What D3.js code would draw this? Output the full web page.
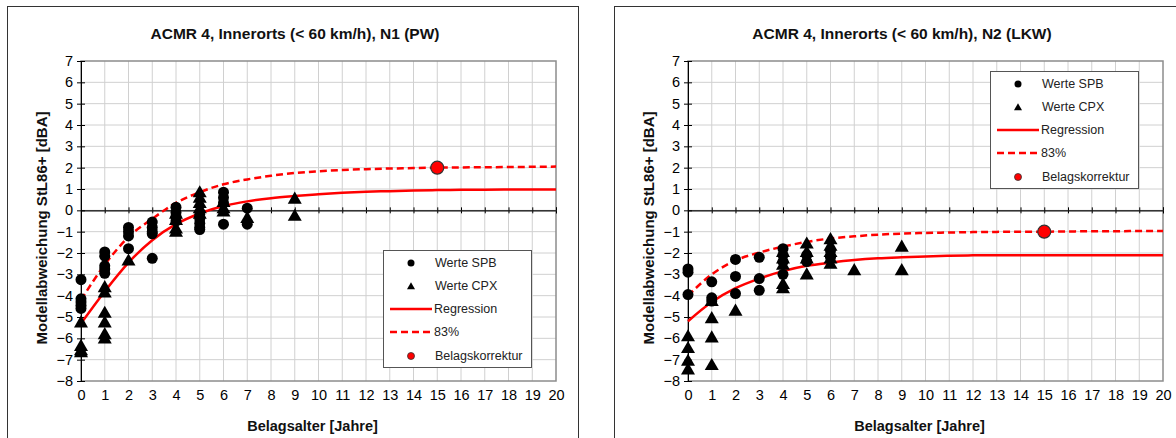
<!DOCTYPE html>
<html>
<head>
<meta charset="utf-8">
<script src="https://cdn.jsdelivr.net/npm/d3@7"></script>
<style>
  body { margin: 0; background: #fff; }
  svg { display: block; font-family: Arial, "Liberation Sans", sans-serif; }
</style>
</head>
<body>
<svg id="chart" width="1176" height="438"></svg>
<script>
// x axis (Belagsalter) and y axis ticks
const years = [0, 1, 2, 3, 4, 5, 6, 7, 8, 9, 10, 11, 12, 13, 14, 15, 16, 17, 18, 19, 20];
const yTicks = [7, 6, 5, 4, 3, 2, 1, 0, -1, -2, -3, -4, -5, -6, -7, -8];

// N1 (PW)
const n1Spb = [[0,-3.25],[0,-4.15],[0,-4.3],[0,-4.45],[0,-4.6],
  [1,-1.95],[1,-2.15],[1,-2.6],[1,-2.75],[1,-2.95],
  [2,-0.8],[2,-1.0],[2,-1.2],[2,-1.8],
  [3,-0.55],[3,-0.8],[3,-1.0],[3,-1.1],[3,-2.25],
  [4,0.15],[4,-0.1],[4,-0.3],[4,-0.5],
  [5,-0.2],[5,-0.4],[5,-0.6],[5,-0.8],[5,-0.9],
  [6,0.85],[6,0.6],[6,0.35],[6,-0.65],
  [7,0.1],[7,-0.65]];
const n1Cpx = [[0,-5.3],[0,-6.4],[0,-6.6],[0,-6.7],
  [1,-3.65],[1,-3.9],[1,-4.85],[1,-5.3],[1,-5.85],[1,-6.05],
  [2,-2.4],
  [4,-0.2],[4,-0.5],[4,-0.9],[4,-1.05],
  [5,0.8],[5,0.55],[5,0.3],[5,0.05],[5,-0.2],
  [6,0.35],[6,0.05],[6,-0.1],
  [7,-0.4],
  [9,0.5],[9,-0.3]];
const n1Regression = [-5.3, -3.8, -2.45, -1.4, -0.65, -0.15, 0.2, 0.42, 0.57, 0.67, 0.75,
  0.82, 0.87, 0.9, 0.93, 0.95, 0.96, 0.97, 0.98, 0.98, 0.98];
const n1Upper = [-4.2, -2.55, -1.25, -0.4, 0.35, 0.85, 1.22, 1.45, 1.62, 1.75, 1.83,
  1.89, 1.93, 1.96, 1.98, 2.0, 2.01, 2.02, 2.03, 2.04, 2.05];
const n1Korrektur = [15, 2];

// N2 (LKW)
const n2Spb = [[0,-2.75],[0,-2.9],[0,-3.95],
  [1,-3.35],[1,-4.1],[1,-4.25],
  [2,-2.3],[2,-3.1],[2,-3.9],
  [3,-2.2],[3,-3.2],[3,-3.75],
  [4,-1.8],[4,-2.1],[4,-2.4],[4,-3.0],
  [5,-2.1],[5,-2.4],
  [6,-1.9],[6,-2.2]];
const n2Cpx = [[0,-5.95],[0,-6.5],[0,-7.1],[0,-7.5],
  [1,-4.3],[1,-5.1],[1,-6.0],[1,-7.3],
  [2,-4.75],
  [4,-2.0],[4,-2.3],[4,-2.6],[4,-3.5],[4,-3.7],
  [5,-1.6],[5,-2.0],[5,-2.3],[5,-3.05],
  [6,-1.4],[6,-1.7],[6,-2.0],[6,-2.3],[6,-2.55],
  [7,-2.85],
  [9,-1.75],[9,-2.85]];
const n2Regression = [-5.2, -4.3, -3.65, -3.2, -2.85, -2.6, -2.45, -2.33, -2.25, -2.2, -2.16,
  -2.13, -2.11, -2.1, -2.1, -2.1, -2.1, -2.1, -2.1, -2.1, -2.1];
const n2Upper = [-4.0, -3.0, -2.35, -1.98, -1.7, -1.48, -1.32, -1.22, -1.14, -1.09, -1.06,
  -1.04, -1.02, -1.01, -1.0, -1.0, -0.99, -0.98, -0.98, -0.97, -0.97];
const n2Korrektur = [15, -1];

const legendLabels = ["Werte SPB", "Werte CPX", "Regression", "83%", "Belagskorrektur"];

const svg = d3.select("#chart");
const red = "#ff0000";
const tri = d3.symbol().type(d3.symbolTriangle);

function drawChart(cfg) {
  const fx = cfg.frameX;
  const left = fx + 74, width = 475, top = 61, bottom = 381;
  const x = d3.scaleLinear().domain([0, 20]).range([left, left + width]);
  const y = d3.scaleLinear().domain([-8, 7]).range([bottom, top]);
  const g = svg.append("g");

  // outer chart frame
  g.append("rect")
    .attr("x", fx + 0.5).attr("y", 6.5)
    .attr("width", 571).attr("height", 460)
    .attr("fill", "#fff").attr("stroke", "#333").attr("stroke-width", 1);

  // title
  g.append("text")
    .attr("x", fx + 288).attr("y", 39)
    .attr("text-anchor", "middle")
    .style("font-size", "15.5px").style("font-weight", "bold")
    .attr("fill", "#111")
    .text(cfg.title);

  // grid
  g.append("g").selectAll("line").data(years.slice(1, -1)).join("line")
    .attr("x1", d => x(d)).attr("x2", d => x(d))
    .attr("y1", top).attr("y2", bottom)
    .attr("stroke", "#d0d0d0").attr("stroke-width", 1);
  g.append("g").selectAll("line").data(yTicks.slice(1, -1)).join("line")
    .attr("x1", left).attr("x2", left + width)
    .attr("y1", d => y(d)).attr("y2", d => y(d))
    .attr("stroke", "#d0d0d0").attr("stroke-width", 1);

  // plot border
  g.append("rect")
    .attr("x", left).attr("y", top)
    .attr("width", width).attr("height", bottom - top)
    .attr("fill", "none").attr("stroke", "#8c8c8c").attr("stroke-width", 1.5);

  // x labels at the bottom
  const xl = g.append("g")
    .attr("transform", "translate(0," + bottom + ")")
    .call(d3.axisBottom(x).tickValues(years).tickSize(0).tickPadding(9));
  xl.select(".domain").remove();
  xl.selectAll("text").style("font-size", "14.5px").attr("fill", "#000");

  // x axis at zero, ticks crossing
  const x0 = g.append("g").attr("transform", "translate(0," + y(0) + ")");
  x0.call(d3.axisBottom(x).tickValues(years).tickSize(3).tickFormat(""));
  const x0t = g.append("g").attr("transform", "translate(0," + y(0) + ")");
  x0t.call(d3.axisTop(x).tickValues(years).tickSize(3).tickFormat(""));
  g.selectAll(".domain").attr("stroke", "#222");

  // y axis with crossing ticks
  const ya = g.append("g").attr("transform", "translate(" + left + ",0)")
    .call(d3.axisLeft(y).tickValues(yTicks).tickSize(4).tickPadding(4).tickSizeOuter(0));
  ya.selectAll("text").style("font-size", "14.5px").attr("fill", "#000");
  ya.select(".domain").attr("stroke", "#000");
  g.append("g").attr("transform", "translate(" + left + ",0)")
    .call(d3.axisRight(y).tickValues(yTicks).tickSize(4).tickFormat("").tickSizeOuter(0))
    .select(".domain").attr("stroke", "#000");

  // axis titles
  g.append("text")
    .attr("x", left + width / 2 - 6).attr("y", 431)
    .attr("text-anchor", "middle")
    .style("font-size", "14.5px").style("font-weight", "bold")
    .attr("fill", "#111")
    .text("Belagsalter [Jahre]");
  g.append("text")
    .attr("transform", "translate(" + (fx + 35) + ",228) rotate(-90)")
    .attr("text-anchor", "middle").attr("dy", "0.35em")
    .style("font-size", "15px").style("font-weight", "bold")
    .attr("fill", "#111")
    .text("Modellabweichung StL86+ [dBA]");

  // curves
  const line = d3.line()
    .x((d, i) => x(years[i]))
    .y(d => y(d))
    .curve(d3.curveMonotoneX);
  g.append("path").datum(cfg.regression)
    .attr("fill", "none").attr("stroke", red).attr("stroke-width", 2.5)
    .attr("d", line);
  g.append("path").datum(cfg.upper)
    .attr("fill", "none").attr("stroke", red).attr("stroke-width", 2.5)
    .attr("stroke-dasharray", "7,4")
    .attr("d", line);

  // points
  g.append("g").selectAll("path").data(cfg.cpx).join("path")
    .attr("transform", d => "translate(" + x(d[0]) + "," + y(d[1]) + ")")
    .attr("d", tri.size(85)())
    .attr("fill", "#000");
  g.append("g").selectAll("circle").data(cfg.spb).join("circle")
    .attr("cx", d => x(d[0])).attr("cy", d => y(d[1]))
    .attr("r", 5.5).attr("fill", "#000");

  g.append("circle")
    .attr("cx", x(cfg.korr[0])).attr("cy", y(cfg.korr[1]))
    .attr("r", 6.5).attr("fill", red).attr("stroke", "#333").attr("stroke-width", 1.2);

  // legend
  const lg = g.append("g").attr("transform", "translate(" + (left + 302) + "," + cfg.legendY + ")");
  lg.append("rect")
    .attr("x", 0.5).attr("y", 0.5).attr("width", 148).attr("height", 117)
    .attr("fill", "#fff").attr("stroke", "#555").attr("stroke-width", 1);
  const rows = [13, 36, 59, 82, 106];
  lg.selectAll("text").data(legendLabels).join("text")
    .attr("x", (d, i) => (i === 2 || i === 3) ? 51 : 52)
    .attr("y", (d, i) => rows[i]).attr("dy", "0.35em")
    .style("font-size", "12.5px").attr("fill", "#222")
    .text(d => d);
  lg.append("circle").attr("cx", 28).attr("cy", rows[0]).attr("r", 3.5).attr("fill", "#000");
  lg.append("path").attr("transform", "translate(28," + (rows[1] + 1) + ")")
    .attr("d", tri.size(28)()).attr("fill", "#000");
  lg.append("line").attr("x1", 7).attr("x2", 49).attr("y1", rows[2]).attr("y2", rows[2])
    .attr("stroke", red).attr("stroke-width", 2.5);
  lg.append("line").attr("x1", 7).attr("x2", 49).attr("y1", rows[3]).attr("y2", rows[3])
    .attr("stroke", red).attr("stroke-width", 2.5).attr("stroke-dasharray", "7,4");
  lg.append("circle").attr("cx", 28).attr("cy", rows[4]).attr("r", 3.5)
    .attr("fill", red).attr("stroke", "#333").attr("stroke-width", 0.8);
}

drawChart({
  frameX: 7, title: "ACMR 4, Innerorts (< 60 km/h), N1 (PW)",
  spb: n1Spb, cpx: n1Cpx, regression: n1Regression, upper: n1Upper,
  korr: n1Korrektur, legendY: 250
});
drawChart({
  frameX: 614, title: "ACMR 4, Innerorts (< 60 km/h), N2 (LKW)",
  spb: n2Spb, cpx: n2Cpx, regression: n2Regression, upper: n2Upper,
  korr: n2Korrektur, legendY: 71
});
</script>
</body>
</html>
